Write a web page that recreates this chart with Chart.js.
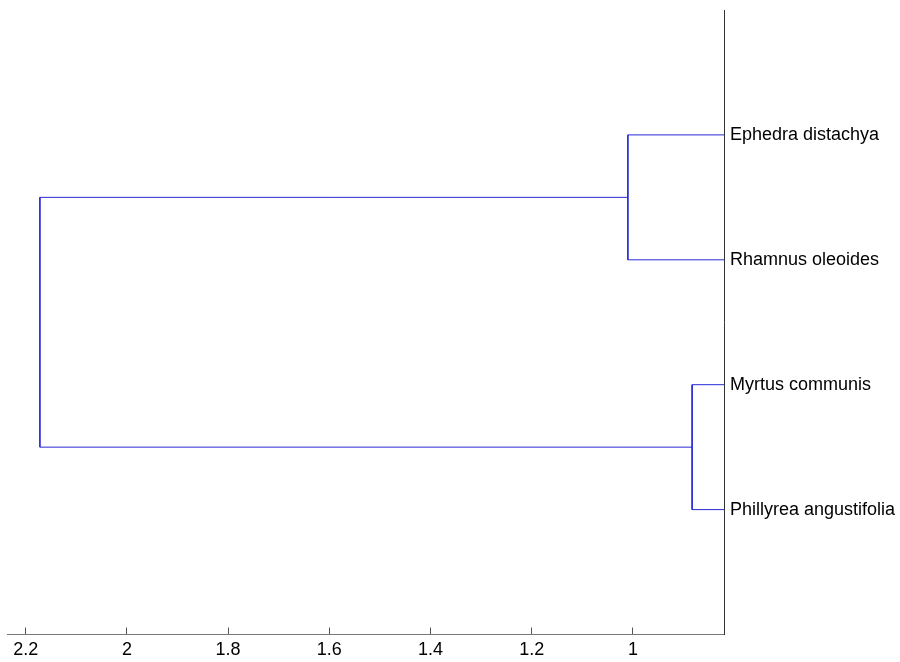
<!DOCTYPE html>
<html lang="en">
<head>
    <meta charset="UTF-8">
    <title>Dendrogram</title>
    <script src="https://cdn.jsdelivr.net/npm/chart.js"></script>
    <style>
        html, body { margin: 0; padding: 0; background: #fff; }
        #wrap { width: 900px; height: 662px; }
    </style>
</head>
<body>
    <div id="wrap">
        <canvas id="myChart" width="900" height="662"></canvas>
    </div>
    <script>
        // leaves, top to bottom
        const leafNames = ['Ephedra distachya', 'Rhamnus oleoides', 'Myrtus communis', 'Phillyrea angustifolia'];
        // links: children (0-3 = leaves, 4+ = earlier links) and their heights
        const linkChildren = [[0, 1], [2, 3], [4, 5]];
        const linkHeights = [1.01, 0.883, 2.172];
        // x axis ticks
        const xTicks = [1, 1.2, 1.4, 1.6, 1.8, 2, 2.2];
        const xMin = 0.82;
        const xMax = 2.237;

        // position of each node: y = row, x = height (leaves at 0)
        const nodes = leafNames.map((n, i) => ({ x: 0, y: i + 1 }));
        linkChildren.forEach((c, i) => {
            nodes.push({ x: linkHeights[i], y: (nodes[c[0]].y + nodes[c[1]].y) / 2 });
        });

        const datasets = linkChildren.map((c, i) => {
            const a = nodes[c[0]], b = nodes[c[1]], h = linkHeights[i];
            return {
                data: [
                    { x: a.x, y: a.y },
                    { x: h, y: a.y },
                    { x: h, y: b.y },
                    { x: b.x, y: b.y }
                ],
                showLine: true,
                borderColor: 'rgb(40,40,215)',
                borderWidth: 1,
                pointRadius: 0,
                fill: false,
                tension: 0
            };
        });

        const font = { family: '"Liberation Sans", Arial, sans-serif', size: 18 };

        const ctx = document.getElementById('myChart').getContext('2d');
        const myChart = new Chart(ctx, {
            type: 'scatter',
            data: { datasets: datasets },
            options: {
                responsive: false,
                animation: false,
                layout: { padding: { left: 7, top: 10, right: 0, bottom: 0 } },
                plugins: { legend: { display: false }, tooltip: { enabled: false } },
                scales: {
                    x: {
                        type: 'linear',
                        reverse: true,
                        min: xMin,
                        max: xMax,
                        afterBuildTicks: (scale) => { scale.ticks = xTicks.map(v => ({ value: v })); },
                        afterFit: (scale) => {
                            scale.height = 27.5;
                            scale.paddingLeft = 0;
                            scale.paddingRight = 0;
                        },
                        grid: { drawOnChartArea: false, tickLength: -7, color: '#555', tickWidth: 1 },
                        border: { display: true, color: '#777', width: 1 },
                        ticks: {
                            color: '#000',
                            font: font,
                            padding: 12,
                            maxRotation: 0,
                            autoSkip: false,
                            callback: (v) => String(v)
                        }
                    },
                    y: {
                        type: 'linear',
                        position: 'right',
                        reverse: true,
                        min: 0,
                        max: 5,
                        afterBuildTicks: (scale) => { scale.ticks = leafNames.map((n, i) => ({ value: i + 1 })); },
                        afterFit: (scale) => {
                            scale.width = 176;
                            scale.paddingTop = 0;
                            scale.paddingBottom = 0;
                        },
                        grid: { display: true, drawOnChartArea: false, drawTicks: false },
                        border: { display: true, color: '#333', width: 1 },
                        ticks: {
                            color: '#000',
                            font: font,
                            padding: 6,
                            autoSkip: false,
                            callback: (v) => leafNames[v - 1] || ''
                        }
                    }
                }
            }
        });
    </script>
</body>
</html>
